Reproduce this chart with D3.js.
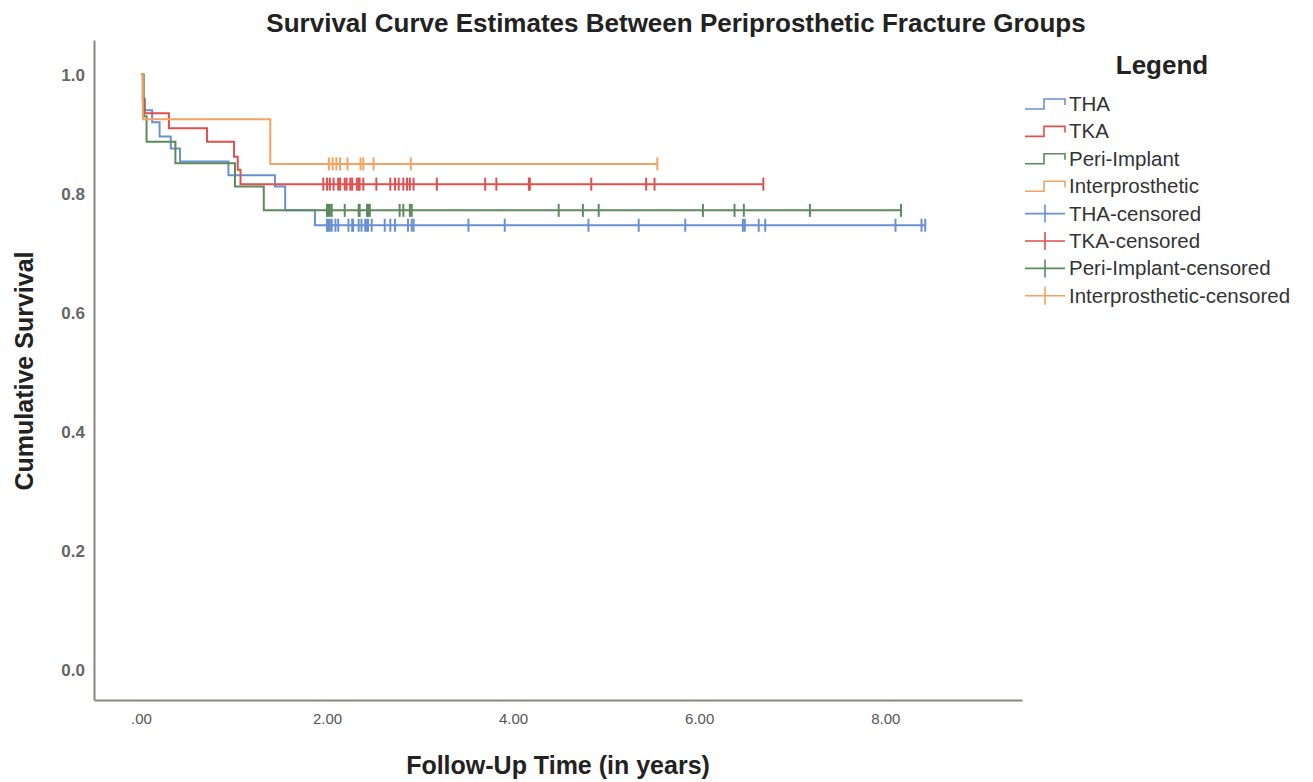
<!DOCTYPE html>
<html>
<head>
<meta charset="utf-8">
<script src="https://cdn.jsdelivr.net/npm/d3@7"></script>
<style>
  body { margin: 0; background: #fff; }
  svg { display: block; font-family: "Liberation Sans", Arial, sans-serif; }
</style>
</head>
<body>
<div id="chart"></div>
<script>
// group names + colours
var groupNames = ["THA", "TKA", "Peri-Implant", "Interprosthetic"];
var groupColors = ["#6a8fd2", "#e0504e", "#5b8a5c", "#f5a262"];

// step points (time in years, cumulative survival)
var thaTimes = [0, 0.02, 0.04, 0.12, 0.2, 0.32, 0.42, 0.94, 1.44, 1.55, 1.87];
var thaSurv  = [1.0, 0.96, 0.94, 0.92, 0.896, 0.876, 0.854, 0.831, 0.812, 0.772, 0.747];
var tkaTimes = [0, 0.02, 0.04, 0.3, 0.71, 1.0, 1.04, 1.07];
var tkaSurv  = [1.0, 0.957, 0.935, 0.91, 0.887, 0.862, 0.84, 0.816];
var periTimes = [0, 0.03, 0.06, 0.37, 1.01, 1.32];
var periSurv  = [1.0, 0.93, 0.887, 0.851, 0.812, 0.772];
var interTimes = [0, 0.02, 1.39];
var interSurv  = [1.0, 0.925, 0.85];

// censored times
var thaCens = [2.0, 2.01, 2.03, 2.05, 2.09, 2.12, 2.23, 2.27, 2.28, 2.34, 2.37, 2.41, 2.43, 2.44, 2.48,
  2.62, 2.68, 2.73, 2.87, 2.91, 2.93, 3.52, 3.91, 4.81, 5.35, 5.85, 6.47, 6.49, 6.64, 6.71, 8.11, 8.39, 8.43];
var tkaCens = [1.96, 2.0, 2.03, 2.07, 2.12, 2.14, 2.19, 2.21, 2.25, 2.27, 2.32, 2.34, 2.35, 2.39, 2.53,
  2.68, 2.73, 2.77, 2.82, 2.86, 2.89, 2.93, 3.18, 3.70, 3.82, 4.17, 4.18, 4.84, 5.43, 5.52, 6.69];
var periCens = [2.0, 2.01, 2.03, 2.05, 2.19, 2.34, 2.35, 2.43, 2.44, 2.46, 2.78, 2.82, 2.89, 2.91,
  4.49, 4.75, 4.92, 6.04, 6.38, 6.48, 7.19, 8.17];
var interCens = [2.02, 2.06, 2.1, 2.14, 2.22, 2.36, 2.39, 2.5, 2.9, 5.55];

var xTicks = [0, 2, 4, 6, 8];
var yTicks = [0, 0.2, 0.4, 0.6, 0.8, 1.0];

var W = 1313, H = 782;
var margin = {left: 94, right: 291, top: 40, bottom: 82};

var svg = d3.select("#chart").append("svg")
    .attr("width", W)
    .attr("height", H);

var x = d3.scaleLinear().domain([-0.505, 9.47]).range([margin.left, W - margin.right]);
var y = d3.scaleLinear().domain([-0.05, 1.058]).range([H - margin.bottom, margin.top]);

var groups = [
  {times: thaTimes, surv: thaSurv, cens: thaCens},
  {times: tkaTimes, surv: tkaSurv, cens: tkaCens},
  {times: periTimes, surv: periSurv, cens: periCens},
  {times: interTimes, surv: interSurv, cens: interCens}
];

// survival value at time t (step function)
function survAt(g, t) {
  var s = g.surv[0];
  for (var i = 0; i < g.times.length; i++) {
    if (g.times[i] <= t) s = g.surv[i];
  }
  return s;
}

// title
svg.append("text")
    .attr("x", 676).attr("y", 32)
    .attr("text-anchor", "middle")
    .attr("font-size", 26).attr("font-weight", "bold")
    .attr("fill", "#222")
    .text("Survival Curve Estimates Between Periprosthetic Fracture Groups");

// axes
var xAxis = svg.append("g")
    .attr("transform", "translate(0," + (H - margin.bottom) + ")")
    .call(d3.axisBottom(x).tickValues(xTicks).tickSize(0).tickPadding(13)
      .tickFormat(function(d) { return d === 0 ? ".00" : d3.format(".2f")(d); }));
var yAxis = svg.append("g")
    .attr("transform", "translate(" + margin.left + ",0)")
    .call(d3.axisLeft(y).tickValues(yTicks).tickSize(0).tickPadding(9)
      .tickFormat(d3.format(".1f")));

[xAxis, yAxis].forEach(function(a) {
  a.select(".domain").attr("stroke", "#8a8580").attr("stroke-width", 2);
  a.selectAll("text").attr("font-size", 15).attr("fill", "#555");
});
yAxis.selectAll("text").attr("font-size", 17).attr("font-weight", "bold").attr("fill", "#666");

// axis titles
svg.append("text")
    .attr("x", 558).attr("y", 774)
    .attr("text-anchor", "middle")
    .attr("font-size", 25).attr("font-weight", "bold").attr("fill", "#222")
    .text("Follow-Up Time (in years)");
svg.append("text")
    .attr("transform", "translate(33,371) rotate(-90)")
    .attr("text-anchor", "middle")
    .attr("font-size", 25).attr("font-weight", "bold").attr("fill", "#222")
    .text("Cumulative Survival");

// curves
var line = d3.line()
    .x(function(d) { return x(d[0]); })
    .y(function(d) { return y(d[1]); })
    .curve(d3.curveStepAfter);

groups.forEach(function(g, i) {
  var pts = g.times.map(function(t, j) { return [t, g.surv[j]]; });
  var tEnd = d3.max(g.cens);
  pts.push([tEnd, survAt(g, tEnd)]);
  svg.append("path")
      .datum(pts)
      .attr("fill", "none")
      .attr("stroke", groupColors[i])
      .attr("stroke-width", 2)
      .attr("d", line);

  svg.append("g").selectAll("line")
      .data(g.cens)
      .enter().append("line")
      .attr("x1", function(d) { return x(d); })
      .attr("x2", function(d) { return x(d); })
      .attr("y1", function(d) { return y(survAt(g, d)) - 6.5; })
      .attr("y2", function(d) { return y(survAt(g, d)) + 6.5; })
      .attr("stroke", groupColors[i])
      .attr("stroke-width", 2);
});

// legend
svg.append("text")
    .attr("x", 1162).attr("y", 74)
    .attr("text-anchor", "middle")
    .attr("font-size", 26).attr("font-weight", "bold").attr("fill", "#222")
    .text("Legend");

var legendItems = groupNames.map(function(n, i) { return {name: n, color: groupColors[i], cens: false}; })
  .concat(groupNames.map(function(n, i) { return {name: n + "-censored", color: groupColors[i], cens: true}; }));

var leg = svg.append("g").selectAll("g")
    .data(legendItems)
    .enter().append("g")
    .attr("transform", function(d, i) { return "translate(1025," + (104 + i * 27.4) + ")"; });

leg.append("path")
    .attr("fill", "none")
    .attr("stroke", function(d) { return d.color; })
    .attr("stroke-width", 1.6)
    .attr("d", function(d) {
      return d.cens ? "M0,0H40M20,-9V9" : "M0,5H19V-5H40V1";
    });
leg.append("text")
    .attr("x", 44).attr("y", 7)
    .attr("font-size", 20.5).attr("fill", "#333")
    .text(function(d) { return d.name; });
</script>
</body>
</html>
